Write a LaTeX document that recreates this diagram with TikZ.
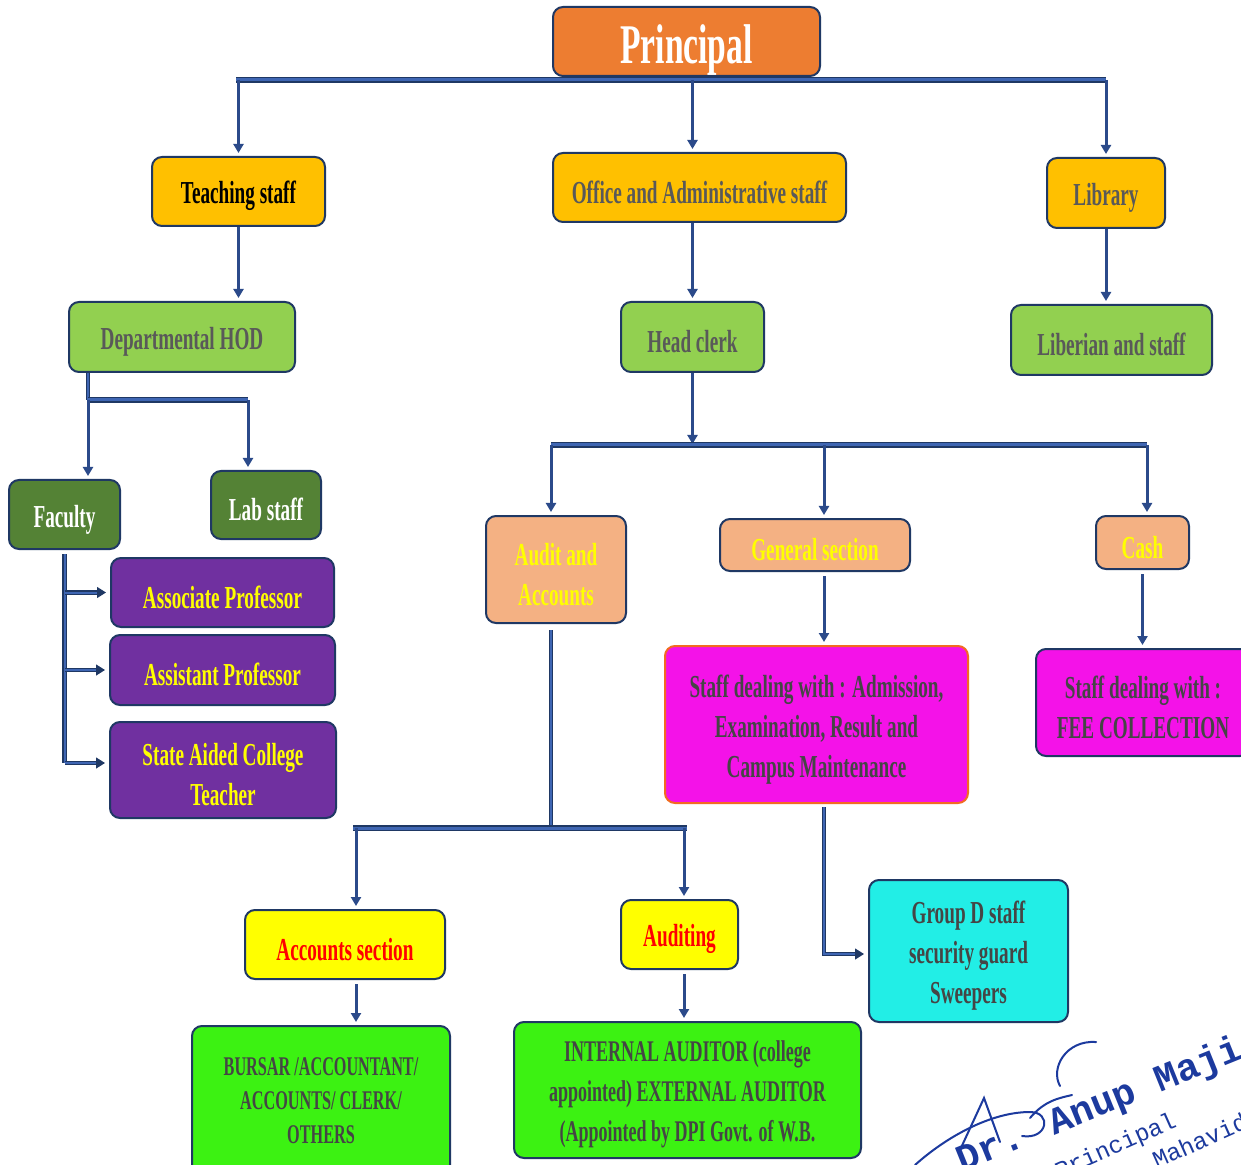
\documentclass[tikz,border=0pt]{standalone}
\usepackage{fontspec}
\setmainfont{Liberation Serif}[FakeStretch=0.6]
\newfontfamily\sigfont{Liberation Mono}
\usetikzlibrary{arrows.meta}
\newcommand{\firstlinestrut}{\rule{0pt}{1em}}
\definecolor{navy}{HTML}{1F3864}
\definecolor{linec}{HTML}{2B4A8A}
\definecolor{midblue}{HTML}{3F66B3}
\definecolor{cOrange}{HTML}{ED7D31}
\definecolor{cGold}{HTML}{FFC000}
\definecolor{cLgreen}{HTML}{92D050}
\definecolor{cDgreen}{HTML}{548235}
\definecolor{cPurple}{HTML}{7030A0}
\definecolor{cPeach}{HTML}{F4B183}
\definecolor{cMagenta}{HTML}{F412E8}
\definecolor{cCyan}{HTML}{22EEE6}
\definecolor{cYellow}{HTML}{FFFF00}
\definecolor{cBgreen}{HTML}{3CF212}
\definecolor{tGray}{HTML}{595959}
\definecolor{tDark}{HTML}{454545}
\definecolor{sigblue}{HTML}{1C3A9E}
\definecolor{magborder}{HTML}{F26B21}
\tikzset{
  box/.style={draw=navy, line width=1pt, rounded corners=5pt, align=center,
    inner sep=0pt, font=\bfseries\fontsize{16}{20}\selectfont,
    execute at begin node={\firstlinestrut}},
  arr/.style={draw=linec, line width=1.5pt, shorten >=1.5pt,
    -{Triangle[length=4.5pt,width=5pt]}},
  bus/.style={draw=navy, double=midblue, double distance=1.5pt, line width=0.7pt},
  vbus/.style={draw=navy, double=midblue, double distance=1pt, line width=0.6pt},
  harr/.style={draw=navy, double=midblue, double distance=1pt, line width=0.6pt,
    shorten >=2pt, -{Triangle[length=4.5pt,width=5.5pt]}},
  sig/.style={text=sigblue, inner sep=0pt},
  sigline/.style={draw=sigblue, line width=1pt, line cap=round}
}
\begin{document}
\begin{tikzpicture}[x=0.5pt,y=-0.5pt]
\useasboundingbox (0,0) rectangle (1241,1165);
\fill[white] (0,0) rectangle (1241,1165);
\clip (0,0) rectangle (1241,1165);

% level 0
\node[box, fill=cOrange, text=white, minimum width=133.5pt, minimum height=34.5pt,
  font=\bfseries\fontsize{28}{30}\selectfont] (principal) at (686.5,41.5) {Principal};
% level 1
\node[box, fill=cGold, text=black, minimum width=86.5pt, minimum height=34.5pt] (teach) at (238.5,191.5) {Teaching staff};
\node[box, fill=cGold, text=tGray, minimum width=146.5pt, minimum height=34.5pt] (office) at (699.5,187.5) {Office and Administrative staff};
\node[box, fill=cGold, text=tGray, minimum width=59pt, minimum height=35pt] (library) at (1106,193) {Library};
% level 2
\node[box, fill=cLgreen, text=tGray, minimum width=113pt, minimum height=35pt] (hod) at (182,337) {Departmental HOD};
\node[box, fill=cLgreen, text=tGray, minimum width=71.5pt, minimum height=35pt] (headclerk) at (692.5,337) {Head clerk};
\node[box, fill=cLgreen, text=tGray, minimum width=100.5pt, minimum height=35pt] (liberian) at (1111.5,340) {Liberian and staff};
% teaching branch
\node[box, fill=cDgreen, text=white, minimum width=55.5pt, minimum height=34.5pt] (faculty) at (64.5,514.5) {Faculty};
\node[box, fill=cDgreen, text=white, minimum width=55pt, minimum height=34pt] (lab) at (266,505) {Lab staff};
\node[box, fill=cPurple, text=cYellow, minimum width=111.5pt, minimum height=34.5pt] (assoc) at (222.5,592.5) {Associate Professor};
\node[box, fill=cPurple, text=cYellow, minimum width=112.5pt, minimum height=35pt] (assist) at (222.5,670) {Assistant Professor};
\node[box, fill=cPurple, text=cYellow, minimum width=113pt, minimum height=48pt] (state) at (223,770) {\firstlinestrut State Aided College\\Teacher};
% office branch
\node[box, fill=cPeach, text=cYellow, minimum width=70pt, minimum height=53.5pt] (audit) at (556,569.5) {\firstlinestrut Audit and\\Accounts};
\node[box, fill=cPeach, text=cYellow, minimum width=95pt, minimum height=26pt] (general) at (815,545) {General section};
\node[box, fill=cPeach, text=cYellow, minimum width=46.5pt, minimum height=26.5pt] (cash) at (1142.5,542.5) {Cash};
\node[box, draw=magborder, fill=cMagenta, text=tDark, minimum width=151.5pt, minimum height=78.5pt] (dealing) at (816.5,724.5) {\firstlinestrut Staff dealing with : Admission,\\Examination, Result and\\Campus Maintenance};
\node[box, fill=cMagenta, text=tDark, minimum width=107pt, minimum height=53.5pt] (fee) at (1143,702.5) {\firstlinestrut Staff dealing with :\\FEE COLLECTION};
\node[box, fill=cCyan, text=tDark, minimum width=99.5pt, minimum height=71pt] (groupd) at (968.5,951) {\firstlinestrut Group D staff\\security guard\\Sweepers};
\node[box, fill=cYellow, text=red, minimum width=100pt, minimum height=34.5pt] (accsec) at (345,944.5) {Accounts section};
\node[box, fill=cYellow, text=red, minimum width=58.5pt, minimum height=34.5pt] (auditing) at (679.5,934.5) {Auditing};
\node[box, fill=cBgreen, text=tDark, minimum width=129pt, minimum height=74.5pt,
  font=\bfseries\fontsize{13.5}{17}\selectfont, execute at begin node={}] (bursar) at (321,1100.5) {BURSAR /ACCOUNTANT/\\ACCOUNTS/ CLERK/\\OTHERS};
\node[box, fill=cBgreen, text=tDark, minimum width=173.5pt, minimum height=68pt,
  font=\bfseries\fontsize{15}{20}\selectfont] (internal) at (687.5,1090) {\firstlinestrut INTERNAL AUDITOR (college\\appointed) EXTERNAL AUDITOR\\(Appointed by DPI Govt. of W.B.};

% top bus
\coordinate (b1L) at (236,80);
\coordinate (b1R) at (1106,80);
\draw[bus] (b1L) -- (b1R);
\draw[arr] (teach.north |- b1L) -- (teach.north);
\draw[arr] (headclerk.north |- b1L) -- (headclerk.north |- office.north);
\draw[arr] (library.north |- b1L) -- (library.north);

% level 1 -> 2
\draw[arr] (teach.south) -- (teach.south |- hod.north);
\draw[arr] (headclerk.north |- office.south) -- (headclerk.north);
\draw[arr] (library.south) -- (library.south |- liberian.north);

% HOD branch
\coordinate (j1) at (88,400);
\coordinate (j1r) at (248,400);
\draw[vbus] (hod.south -| j1) -- (j1);
\draw[bus] (j1) -- (j1r);
\draw[arr] (j1) -- (j1 |- faculty.north);
\draw[arr] (j1r) -- (j1r |- lab.north);

% faculty branch
\coordinate (fb) at (65,763);
\draw[vbus] ([yshift=-2pt]faculty.south) -- (faculty.south |- fb);
\draw[harr] (faculty.south |- assoc.west) -- (assoc.west);
\draw[harr] (faculty.south |- assist.west) -- (assist.west);
\draw[harr] (faculty.south |- fb) -- (state.west |- fb);

% head clerk bus
\coordinate (b2L) at (551,445);
\coordinate (b2M) at (824,445);
\coordinate (b2R) at (1147,445);
\draw[arr] (headclerk.south) -- ([yshift=-1pt]headclerk.south |- b2L);
\draw[bus] (b2L) -- (b2R);
\draw[arr] (b2L) -- (b2L |- audit.north);
\draw[arr] (b2M) -- (b2M |- general.north);
\draw[arr] (b2R) -- (b2R |- cash.north);

\draw[arr] ([yshift=-2pt]general.south -| b2M) -- (b2M |- dealing.north);
\draw[arr] ([yshift=-2pt]cash.south) -- (cash.south |- fee.north);
\draw[harr] ([yshift=-1.5pt]dealing.south -| b2M) |- ([yshift=-1.5pt]groupd.west);

% audit branch
\coordinate (b3L) at (356,828);
\coordinate (b3R) at (684,828);
\draw[vbus] ([yshift=-3pt]audit.south -| b2L) -- (b2L |- b3L);
\draw[bus] ([xshift=-1.5pt]b3L) -- ([xshift=1.5pt]b3R);
\draw[arr] (b3L) -- (b3L |- accsec.north);
\draw[arr] (b3R) -- (b3R |- auditing.north);
\draw[arr] ([yshift=-2pt]b3L |- accsec.south) -- (b3L |- bursar.north);
\draw[arr] ([yshift=-2pt]b3R |- auditing.south) -- (b3R |- internal.north);

% signature
\draw[sigline] (915,1165) .. controls (945,1138) and (990,1112) .. (1030,1112) .. controls (1052,1112) and (1048,1140) .. (1022,1136);
\draw[sigline] (960,1150) -- (984,1098) -- (1000,1142);
\draw[sigline] (1030,1118) .. controls (1045,1100) and (1060,1098) .. (1072,1095);
\draw[sigline] (1096,1042) .. controls (1066,1040) and (1050,1068) .. (1060,1086);
\node[sig, rotate=22, font=\sigfont\bfseries\fontsize{19}{19}\selectfont] (signame) at (1100,1106) {Dr. Anup Maji};
\node[sig, rotate=24, font=\sigfont\fontsize{12}{12}\selectfont] (sigprin) at (1116,1147) {Principal};
\node[sig, rotate=24, font=\sigfont\fontsize{12}{12}\selectfont] (sigmaha) at (1240,1125) {Mahavidyalaya};
\end{tikzpicture}
\end{document}
